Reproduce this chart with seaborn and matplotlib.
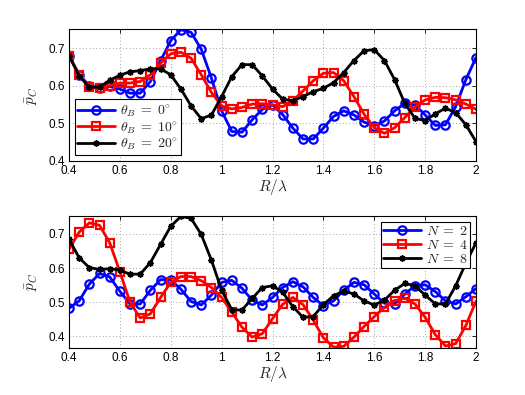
import numpy as np
import pandas as pd
import matplotlib
matplotlib.use("Agg")
import matplotlib.pyplot as plt
import seaborn as sns

sns.set_style("white")
plt.rcParams['font.family'] = ['Liberation Sans', 'DejaVu Sans']
plt.rcParams['mathtext.fontset'] = 'cm'

R_lambda = [round(0.4 + 0.04 * i, 2) for i in range(41)]

theta0 = [0.68, 0.629, 0.60, 0.593, 0.598, 0.591, 0.58, 0.58, 0.611, 0.666,
          0.72, 0.749, 0.742, 0.697, 0.62, 0.533, 0.478, 0.476, 0.509, 0.537,
          0.549, 0.523, 0.487, 0.458, 0.458, 0.487, 0.518, 0.533, 0.522, 0.503,
          0.493, 0.506, 0.533, 0.553, 0.549, 0.522, 0.494, 0.496, 0.544, 0.616,
          0.675]
theta10 = [0.68, 0.629, 0.596, 0.593, 0.60, 0.607, 0.607, 0.611, 0.629, 0.66,
           0.685, 0.689, 0.673, 0.629, 0.582, 0.546, 0.538, 0.542, 0.551, 0.552,
           0.549, 0.544, 0.56, 0.586, 0.613, 0.633, 0.635, 0.613, 0.571, 0.524,
           0.488, 0.473, 0.488, 0.515, 0.544, 0.562, 0.569, 0.568, 0.562, 0.551,
           0.537]
theta20 = [0.68, 0.626, 0.596, 0.596, 0.614, 0.628, 0.637, 0.640, 0.645, 0.645,
           0.629, 0.591, 0.546, 0.512, 0.522, 0.571, 0.624, 0.656, 0.656, 0.626,
           0.591, 0.564, 0.56, 0.571, 0.584, 0.593, 0.608, 0.635, 0.667, 0.693,
           0.696, 0.667, 0.616, 0.553, 0.513, 0.507, 0.525, 0.540, 0.528, 0.496,
           0.451]

n2 = [0.482, 0.504, 0.553, 0.584, 0.574, 0.532, 0.495, 0.495, 0.535, 0.566,
      0.565, 0.538, 0.502, 0.492, 0.521, 0.558, 0.564, 0.541, 0.506, 0.492,
      0.514, 0.543, 0.560, 0.545, 0.514, 0.49, 0.504, 0.535, 0.558, 0.551,
      0.524, 0.497, 0.495, 0.524, 0.548, 0.551, 0.531, 0.504, 0.495, 0.516,
      0.54]
n4 = [0.655, 0.705, 0.732, 0.725, 0.674, 0.589, 0.50, 0.454, 0.466, 0.514,
      0.558, 0.575, 0.575, 0.563, 0.543, 0.514, 0.471, 0.427, 0.398, 0.408,
      0.452, 0.494, 0.514, 0.493, 0.448, 0.396, 0.369, 0.371, 0.398, 0.429,
      0.458, 0.485, 0.504, 0.512, 0.495, 0.456, 0.405, 0.372, 0.379, 0.432,
      0.503]
n8 = [0.684, 0.630, 0.601, 0.596, 0.598, 0.594, 0.582, 0.582, 0.616, 0.669,
      0.722, 0.751, 0.745, 0.698, 0.623, 0.535, 0.478, 0.477, 0.511, 0.543,
      0.548, 0.529, 0.487, 0.456, 0.458, 0.493, 0.519, 0.533, 0.524, 0.504,
      0.492, 0.506, 0.535, 0.555, 0.548, 0.521, 0.495, 0.495, 0.548, 0.614,
      0.674]

top_labels = [r'$\theta_B \;=\; 0^{\circ}$', r'$\theta_B \;=\; 10^{\circ}$', r'$\theta_B \;=\; 20^{\circ}$']
bot_labels = [r'$N \;=\; 2$', r'$N \;=\; 4$', r'$N \;=\; 8$']
xticks = [0.4, 0.6, 0.8, 1.0, 1.2, 1.4, 1.6, 1.8, 2.0]
xticklabels = ['0.4', '0.6', '0.8', '1', '1.2', '1.4', '1.6', '1.8', '2']

colors = ['#0000ff', '#ff0000', '#000000']
markers = ['o', 's', (8, 2, 0)]

fig = plt.figure(figsize=(5.25, 3.95), dpi=100)
ax1 = fig.add_axes([0.1314, 0.593, 0.7753, 0.3327])
ax2 = fig.add_axes([0.1314, 0.1197, 0.7753, 0.3334])


def draw(ax, series, labels, ylim, yticks, loc, legkw):
    for s, lab, c, m in zip(series, labels, colors, markers):
        df = pd.DataFrame({'x': R_lambda, 'y': s})
        sns.lineplot(data=df, x='x', y='y', ax=ax, color=c, lw=2, marker='o',
                     markersize=6, markerfacecolor='none', markeredgecolor=c,
                     markeredgewidth=1.6, label=lab, legend=False)
        line = ax.lines[-1]
        line.set_marker(m)
        line.set_markerfacecolor('none')
        line.set_markeredgecolor(c)
        if m == 's':
            line.set_markersize(5.5)
        elif m != 'o':
            line.set_markersize(4.5)
            line.set_markeredgewidth(1.1)
    ax.set_xlim(0.4, 2.0)
    ax.set_ylim(*ylim)
    ax.set_xticks(xticks)
    ax.set_xticklabels(xticklabels)
    ax.set_yticks(yticks)
    ax.set_yticklabels([f'{v:.1f}' for v in yticks])
    ax.grid(True, linestyle=(0, (1, 3)), color='#888888', lw=0.6)
    ax.tick_params(direction='in', top=True, right=True, length=3, width=0.6,
                   labelsize=8.5, pad=3, colors='black')
    for sp in ax.spines.values():
        sp.set_linewidth(0.8)
        sp.set_color('black')
    ax.set_xlabel(r'$R/\lambda$', fontsize=11, labelpad=0)
    ax.set_ylabel(r'$\bar{p}_C$', fontsize=11, labelpad=6)
    leg = ax.legend(loc=loc, frameon=True, fancybox=False,
                    edgecolor='black', framealpha=1, handletextpad=0.4,
                    **legkw)
    leg.get_frame().set_linewidth(0.8)


draw(ax1, [theta0, theta10, theta20], top_labels, (0.4, 0.75), [0.4, 0.5, 0.6, 0.7],
     'lower left', dict(fontsize=10, handlelength=2.7, borderpad=0.2,
                        labelspacing=0.02, borderaxespad=0.4))
draw(ax2, [n2, n4, n8], bot_labels, (0.367, 0.752), [0.4, 0.5, 0.6, 0.7],
     'upper right', dict(fontsize=10, handlelength=2.7, borderpad=0.15,
                         labelspacing=0.0, borderaxespad=0.4))

fig.savefig('out.png', dpi=100)
